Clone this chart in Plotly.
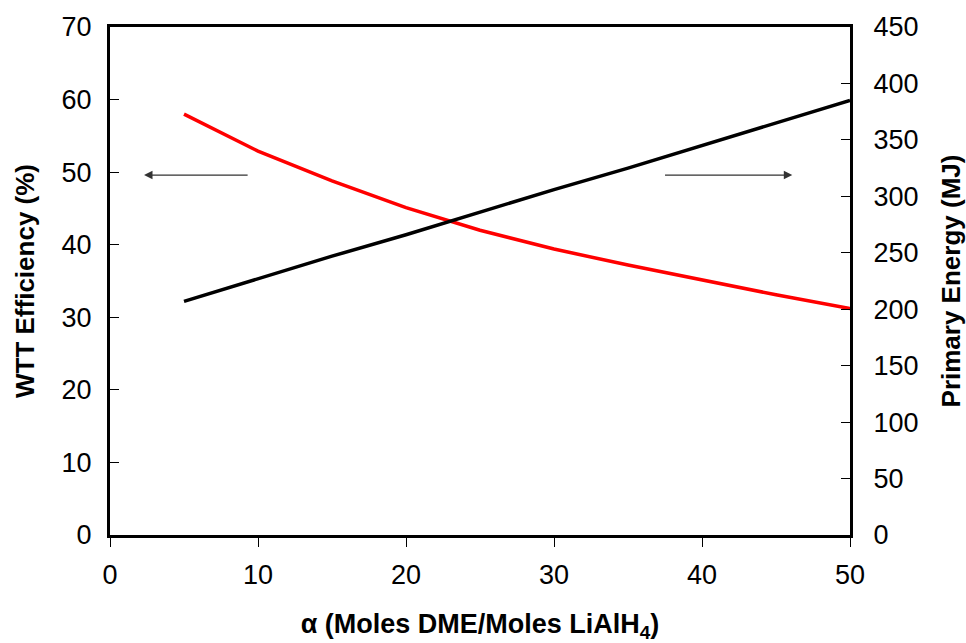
import plotly.graph_objects as go

alpha = [5, 10, 15, 20, 25, 30, 35, 40, 45, 50]
wtt_efficiency = [58.0, 52.9, 48.8, 45.1, 42.0, 39.4, 37.2, 35.1, 33.1, 31.2]
primary_energy = [207, 227, 247, 266, 286, 306, 325, 345, 365, 385]

FONT = "Liberation Sans, Arial, sans-serif"

fig = go.Figure()
fig.add_trace(go.Scatter(x=alpha, y=wtt_efficiency, mode="lines",
                         line=dict(color="#ff0000", width=3.5), yaxis="y",
                         showlegend=False))
fig.add_trace(go.Scatter(x=alpha, y=primary_energy, mode="lines",
                         line=dict(color="#000000", width=3.5), yaxis="y2",
                         showlegend=False))

fig.update_layout(
    width=966, height=643,
    margin=dict(l=110, r=116, t=27, b=108),
    paper_bgcolor="white", plot_bgcolor="white",
    font=dict(family=FONT, size=27, color="#000"),
    xaxis=dict(range=[0, 50], tickvals=[0, 10, 20, 30, 40, 50],
               showgrid=False, zeroline=False, automargin=False,
               showline=True, linecolor="#000", linewidth=3, mirror=True,
               ticks="outside", ticklen=9, tickwidth=1.2, tickcolor="#000",
               ticklabelstandoff=5,
               title=dict(text="<b>α (Moles DME/Moles LiAlH<sub>4</sub>)</b>",
                          font=dict(size=27), standoff=32)),
    yaxis=dict(range=[0, 70], tickvals=[0, 10, 20, 30, 40, 50, 60, 70],
               showgrid=False, zeroline=False, automargin=False,
               showline=True, linecolor="#000", linewidth=3,
               ticks="inside", ticklen=9, tickwidth=1.2, tickcolor="#000",
               ticklabelstandoff=10,
               title=dict(text="<b>WTT Efficiency (%)</b>", font=dict(size=26), standoff=20)),
    yaxis2=dict(range=[0, 450], tickvals=list(range(0, 451, 50)),
                overlaying="y", side="right", automargin=False,
                showgrid=False, zeroline=False,
                showline=True, linecolor="#000", linewidth=3,
                ticks="inside", ticklen=9, tickwidth=1.2, tickcolor="#000",
                ticklabelstandoff=15,
                title=dict(text="<b>Primary Energy (MJ)</b>", font=dict(size=26), standoff=26)),
)

fig.add_annotation(x=2.3, y=49.6, ax=9.4, ay=49.6, xref="x", yref="y", axref="x", ayref="y",
                   text="", showarrow=True, arrowhead=2, arrowsize=1.3, arrowwidth=1.3,
                   arrowcolor="#333")
fig.add_annotation(x=46.1, y=49.6, ax=37.4, ay=49.6, xref="x", yref="y", axref="x", ayref="y",
                   text="", showarrow=True, arrowhead=2, arrowsize=1.3, arrowwidth=1.3,
                   arrowcolor="#333")

fig.write_html("out.html")
